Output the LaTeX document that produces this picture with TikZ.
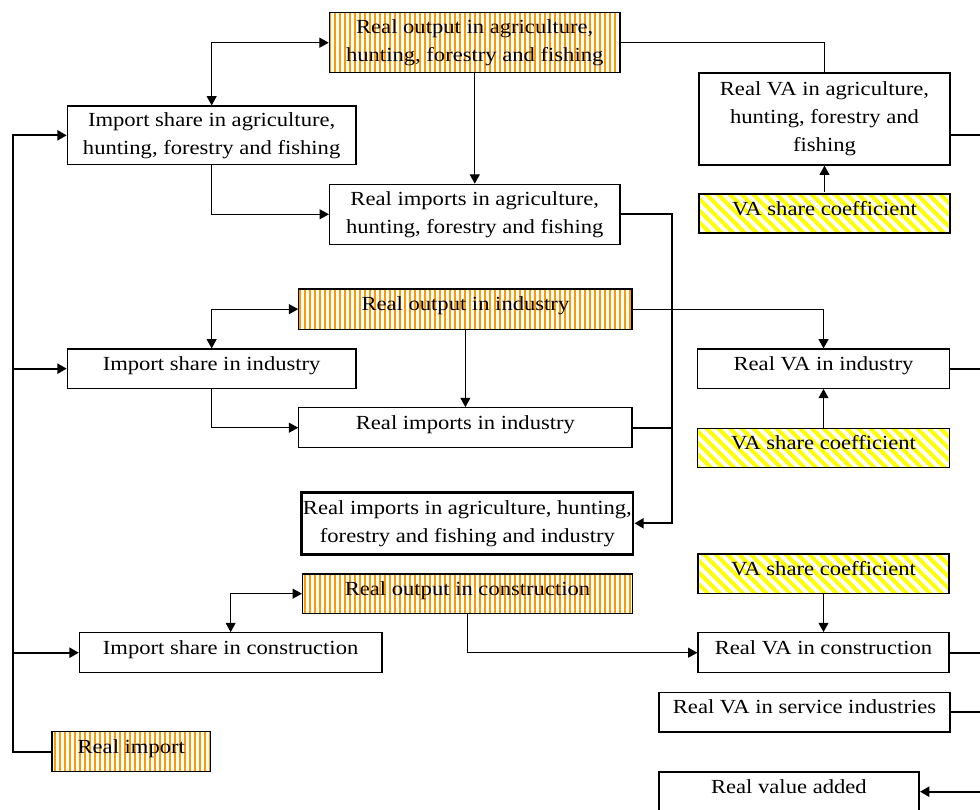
\documentclass[tikz,border=0pt]{standalone}
\usepackage{fontspec}
\setmainfont{Liberation Serif}[FakeStretch=1.13]
\usetikzlibrary{arrows.meta,patterns.meta}

\definecolor{stripeorange}{RGB}{255,153,0}
\definecolor{stripeyellow}{RGB}{255,255,0}

\tikzset{
  >={Triangle[length=7pt,width=7.5pt]},
  box/.style 2 args={draw, line width=0.9pt, inner sep=1pt, align=center,
    minimum width=#1*0.75pt, minimum height=#2*0.75pt,
    font=\fontsize{15}{21}\selectfont},
  oneline/.style={text height=9pt, text depth=6.75pt},
  heavybox/.style={line width=1.8pt},
  outbox/.style={pattern={Lines[angle=90,distance=3.75pt,line width=1.1pt]},
    pattern color=stripeorange},
  coefbox/.style={pattern={Lines[angle=-45,distance=6.2pt,line width=3pt]},
    pattern color=stripeyellow},
  thinlink/.style={line width=0.75pt},
  thicklink/.style={line width=1.7pt},
}

\begin{document}
\begin{tikzpicture}[x=0.75pt,y=-0.75pt]
\useasboundingbox (0,0) rectangle (980,809);

% agriculture, hunting, forestry and fishing
\node[box={290.5}{60},outbox] (ROA) at (474.75,42.7)
  {Real output in agriculture,\\hunting, forestry and fishing};
\node[box={288.7}{58.7}] (ISA) at (211.65,135.35)
  {Import share in agriculture,\\hunting, forestry and fishing};
\node[box={290.5}{60}] (RIA) at (474.75,214.3)
  {Real imports in agriculture,\\hunting, forestry and fishing};
\node[box={251}{92}] (RVAA) at (824.5,119)
  {Real VA in agriculture,\\hunting, forestry and\\fishing};
\node[box={251}{39},oneline,coefbox] (VA1) at (824.5,213.5) {VA share coefficient};

% industry
\node[box={333.2}{40.3},oneline,outbox] (ROI) at (465.4,309.15) {Real output in industry};
\node[box={288.7}{39.3},oneline] (ISI) at (211.65,368.65) {Import share in industry};
\node[box={333.2}{40},oneline] (RII) at (465.4,427.7) {Real imports in industry};
\node[box={251.6}{39.3},oneline] (RVAI) at (823.5,368.65) {Real VA in industry};
\node[box={251.6}{39},oneline,coefbox] (VA2) at (823.5,447.8) {VA share coefficient};

% total of the two import flows
\node[box={331.2}{62},heavybox] (CB) at (467.4,523.3)
  {Real imports in agriculture, hunting,\\forestry and fishing and industry};

% construction
\node[box={251}{39.3},oneline,coefbox] (VA3) at (823.5,573.7) {VA share coefficient};
\node[box={330}{39.3},oneline,outbox] (ROC) at (467.5,593.65) {Real output in construction};
\node[box={302.5}{40},oneline] (ISC) at (230.65,652.7) {Import share in construction};
\node[box={251}{40},oneline] (RVAC) at (823.5,652.7) {Real VA in construction};

% services, imports and the total
\node[box={291}{39.7},oneline] (RVAS) at (804.5,712.15) {Real VA in service industries};
\node[box={158.6}{40},oneline,outbox] (RIM) at (131.3,751.7) {Real import};
\node[box={259.8}{40},oneline,heavybox] (RVT) at (788.9,791.7) {Real value added};

% helper lines
\coordinate (busx) at (13,0);
\coordinate (sumx) at (672,0);
\coordinate (edge) at (982,0);

% import bus on the left
\draw[thicklink,->] (RIM.west) -| (busx |- ISA.west) -- (ISA.west);
\draw[thicklink,->] (busx |- ISI.west) -- (ISI.west);
\draw[thicklink,->] (busx |- ISC.west) -- (ISC.west);

% agriculture links
\draw[thinlink,<->] (ISA.north) |- (ROA.west);
\draw[thinlink,->] (ROA.south) -- (RIA.north);
\draw[thinlink,->] (ISA.south) |- (RIA.west);
\draw[thinlink] (ROA.east) -| (RVAA.north);
\draw[thinlink,->] (VA1.north) -- (RVAA.south);
\draw[thicklink] (RVAA.east |- ISA.center) -- (edge |- ISA.center);

% industry links
\draw[thinlink,<->] (ISI.north) |- (ROI.west);
\draw[thinlink,->] (ROI.south) -- (RII.north);
\draw[thinlink,->] (ISI.south) |- (RII.west);
\draw[thinlink,->] (ROI.east) -| (RVAI.north);
\draw[thinlink,->] (VA2.north) -- (RVAI.south);
\draw[thicklink] (RVAI.east) -- (edge |- RVAI.east);

% summing the imports
\draw[thicklink,->] (RIA.east) -| (sumx |- CB.east) -- (CB.east);
\draw[thicklink] (RII.east) -- (sumx |- RII.east);

% construction links
\draw[thinlink,<->] (ISC.north) |- (ROC.west);
\draw[thinlink,->] (ROC.south) |- (RVAC.west);
\draw[thinlink,->] (VA3.south) -- (RVAC.north);
\draw[thicklink] (RVAC.east) -- (edge |- RVAC.east);

% value added
\draw[thicklink] (RVAS.east) -- (edge |- RVAS.east);
\draw[thicklink,->] (edge |- RVT.east) -- (RVT.east);
\end{tikzpicture}
\end{document}
